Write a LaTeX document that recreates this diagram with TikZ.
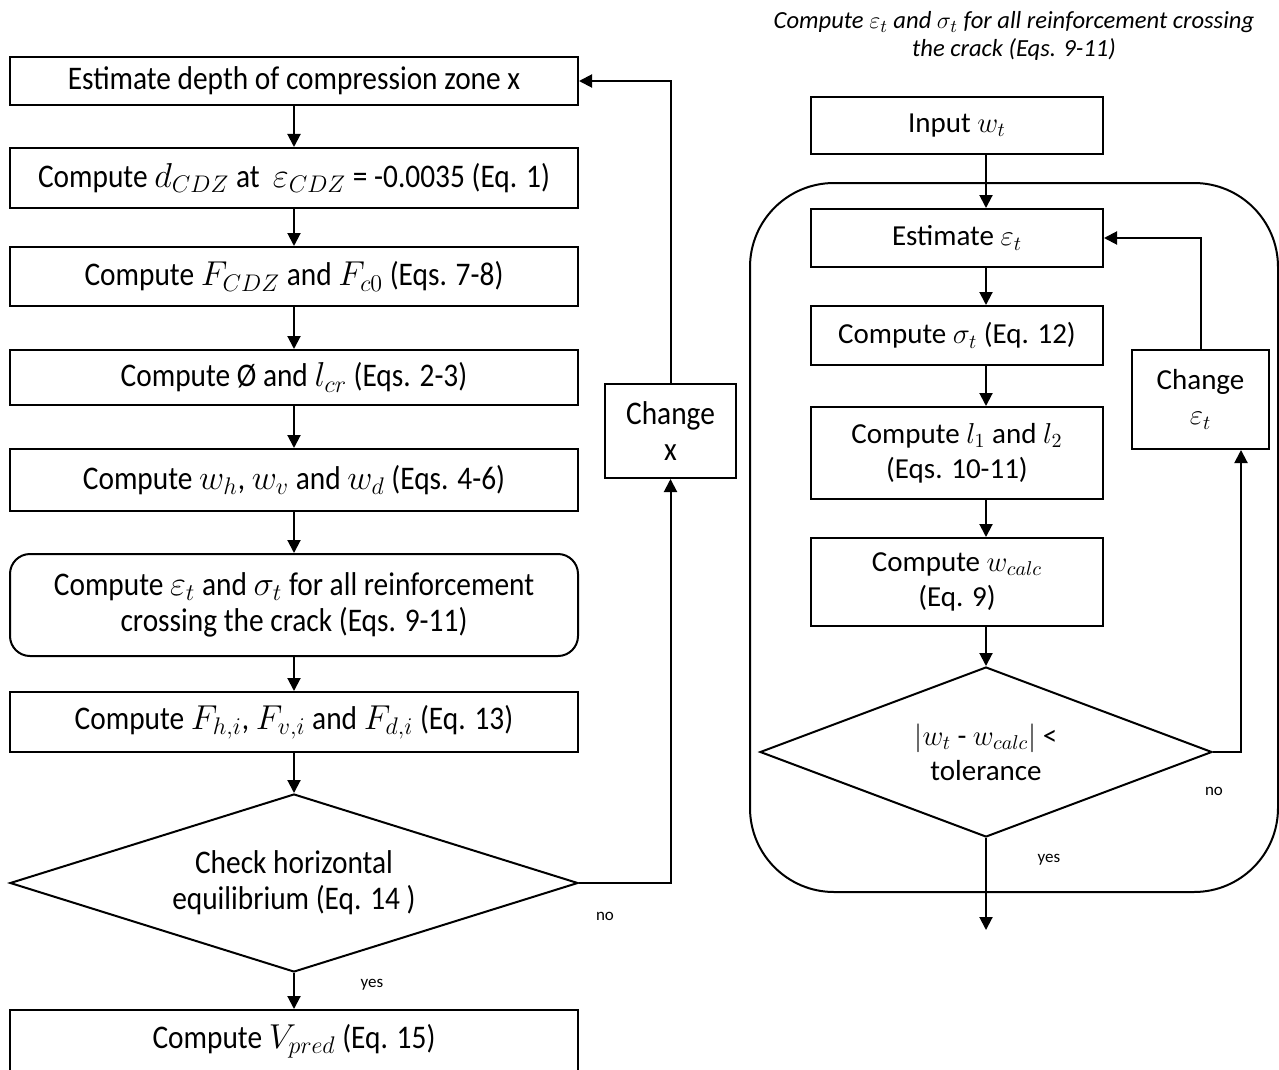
\documentclass[tikz,border=0pt]{standalone}
\usepackage{fontspec}
\setmainfont{Carlito}
\newfontfamily\narrowfont{Carlito}[FakeStretch=0.89]
\usetikzlibrary{shapes.geometric,arrows.meta}

\begin{document}
\begin{tikzpicture}[x=0.5pt,y=-0.5pt,line width=1pt,
  lbox/.style={draw,inner sep=0pt,minimum width=284pt,align=center,font=\narrowfont\fontsize{16.5}{18}\selectfont},
  rbox/.style={draw,inner sep=0pt,minimum width=146pt,align=center,font=\fontsize{14.5}{17.5}\selectfont},
  decision/.style={diamond,shape aspect=3},
  arr/.style={-{Triangle[length=6.5pt,width=6.5pt]}},
  lbl/.style={font=\fontsize{8.5}{10}\selectfont}]
\useasboundingbox (0,0) rectangle (1279,1070);
% main loop
\node[lbox,minimum height=24pt] (est) at (294,81) {Estimate depth of compression zone x};
\node[lbox,minimum height=30pt] (dcdz) at (294,178) {Compute $d_{CDZ}$ at \ $\varepsilon_{CDZ}$ = -0.0035 (Eq. 1)};
\node[lbox,minimum height=29.5pt] (fcdz) at (294,276.5) {Compute $F_{CDZ}$ and $F_{c0}$ (Eqs. 7-8)};
\node[lbox,minimum height=27.5pt] (lcr) at (294,377.5) {Compute Ø and $l_{cr}$ (Eqs. 2-3)};
\node[lbox,minimum height=31pt] (wh) at (294,480) {Compute $w_h$, $w_v$ and $w_d$ (Eqs. 4-6)};
\node[lbox,minimum height=51pt,rounded corners=10pt] (epst) at (294,605) {Compute $\varepsilon_t$ and $\sigma_t$ for all reinforcement\\crossing the crack (Eqs. 9-11)};
\node[lbox,minimum height=30pt] (fhi) at (294,722) {Compute $F_{h,i}$, $F_{v,i}$ and $F_{d,i}$ (Eq. 13)};
\node[lbox,decision,minimum height=89pt] (equil) at (294,883) {Check horizontal\\equilibrium (Eq. 14 )};
\node[lbox,minimum height=31pt] (vpred) at (294,1041) {Compute $V_{pred}$ (Eq. 15)};
\node[lbox,minimum width=65.5pt,minimum height=47pt] (chx) at (670.5,431) {Change\\x};
\foreach \a/\b in {est/dcdz,dcdz/fcdz,fcdz/lcr,lcr/wh,wh/epst,epst/fhi,fhi/equil,equil/vpred}
  \draw[arr] (\a) -- (\b);
\draw[arr] (equil.east) -| (chx);
\draw[arr] (chx) |- (est);
\node[lbl] (no1) at (605,916) {no};
\node[lbl] (yes1) at (372,985) {yes};
% crack loop
\node[font=\itshape\fontsize{12.3}{14}\selectfont,align=center] (title) at (1014,36) {Compute $\varepsilon_t$ and $\sigma_t$ for all reinforcement crossing\\the crack (Eqs. 9-11)};
\draw[rounded corners=42pt] (750,183) rectangle (1278,892);
\node[rbox,minimum height=28.5pt] (inp) at (957,125.5) {Input $w_t$};
\node[rbox,minimum height=29pt] (esteps) at (957,238) {Estimate $\varepsilon_t$};
\node[rbox,minimum height=29.5pt] (sig) at (957,335.5) {Compute $\sigma_t$ (Eq. 12)};
\node[rbox,minimum height=46pt] (lone) at (957,453) {Compute $l_1$ and $l_2$\\(Eqs. 10-11)};
\node[rbox,minimum height=44pt] (wcalc) at (957,582) {Compute $w_{calc}$\\(Eq. 9)};
\node[rbox,decision,shape aspect=2.66,minimum width=226pt,minimum height=85pt] (tol) at (986,752) {$|w_t$ - $w_{calc}|$ <\\tolerance};
\node[rbox,minimum width=68.5pt,minimum height=49.5pt] (cheps) at (1200.5,399.5) {Change\\$\varepsilon_t$};
\coordinate (out) at (986,930);
\foreach \a/\b in {inp/esteps,esteps/sig,sig/lone,lone/wcalc}
  \draw[arr] (\a.south -| tol) -- (\b.north -| tol);
\draw[arr] (wcalc.south -| tol) -- (tol.north);
\draw[arr] (tol.east) -| ([xshift=20.25pt]cheps.south);
\draw[arr] (cheps) |- (esteps);
\draw[arr] (tol) -- (out);
\node[lbl] (no2) at (1214,791) {no};
\node[lbl] (yes2) at (1049,860) {yes};
\end{tikzpicture}
\end{document}
